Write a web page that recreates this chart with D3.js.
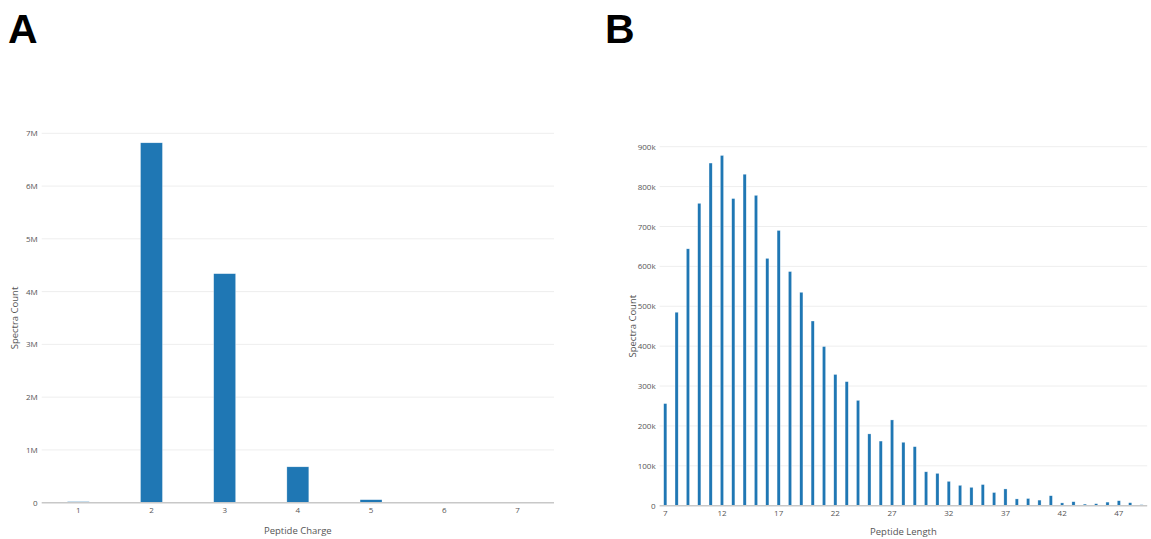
<!DOCTYPE html>
<meta charset="utf-8">
<script src="https://d3js.org/d3.v7.min.js"></script>
<style>
  body { margin: 0; background: #fff; }
  text { font-family: "Open Sans", sans-serif; }
</style>
<div id="chart"></div>
<script>

    // panel A data: peptide charge
    var chargeCats = [1, 2, 3, 4, 5, 6, 7];
    var chargeCounts = [20000, 6820000, 4340000, 680000, 57000, 3000, 500];

    // panel B data: peptide length
    var lengthCats = d3.range(7, 50);
    var lengthCounts = [256000, 485000, 644000, 758000, 859000, 878000, 770000, 831000, 778000, 620000,
        690000, 587000, 535000, 463000, 399000, 329000, 311000, 264000, 180000, 162000,
        215000, 159000, 148000, 85000, 81000, 61000, 51000, 46000, 53000, 33000,
        42000, 17000, 18000, 14000, 25000, 7000, 10000, 4000, 5000, 9000,
        12500, 7500, 2500];
    var lengthTicks = [7, 12, 17, 22, 27, 32, 37, 42, 47];

    var barColor = "#1f77b4";

    var svg = d3.select("#chart")
        .append("svg")
        .attr("width", 1151)
        .attr("height", 539);

    function drawPanel(cfg) {
        var g = svg.append("g");

        var x = d3.scaleBand()
            .domain(cfg.cats)
            .range([cfg.left, cfg.right])
            .paddingInner(cfg.pad)
            .paddingOuter(cfg.pad / 2);

        var y = d3.scaleLinear()
            .domain([0, cfg.ymax])
            .range([cfg.bottom, cfg.top]);

        // gridlines
        g.append("g")
            .selectAll("line")
            .data(y.ticks(cfg.nticks).filter(function(d) { return d > 0; }))
            .enter()
            .append("line")
            .attr("x1", cfg.left)
            .attr("x2", cfg.right)
            .attr("y1", function(d) { return y(d); })
            .attr("y2", function(d) { return y(d); })
            .attr("stroke", "#eeeeee")
            .attr("stroke-width", 1);

        // y axis labels
        var yAxis = g.append("g")
            .attr("transform", "translate(" + cfg.left + ",0)")
            .call(d3.axisLeft(y).ticks(cfg.nticks).tickSize(0).tickPadding(4).tickFormat(d3.format("~s")));
        yAxis.select(".domain").remove();
        yAxis.selectAll("text")
            .style("font-size", "8px")
            .attr("fill", "#555");

        // bars
        g.append("g")
            .selectAll("rect")
            .data(cfg.cats)
            .enter()
            .append("rect")
            .attr("x", function(d) { return x(d); })
            .attr("width", x.bandwidth())
            .attr("y", function(d, i) { return y(cfg.values[i]); })
            .attr("height", function(d, i) { return cfg.bottom - y(cfg.values[i]); })
            .attr("fill", barColor)
            .attr("stroke", "rgba(255,255,255,0.6)")
            .attr("stroke-width", 0.5);

        // x axis
        var xAxis = g.append("g")
            .attr("transform", "translate(0," + cfg.bottom + ")")
            .call(d3.axisBottom(x).tickValues(cfg.tickVals).tickSize(0).tickPadding(5));
        xAxis.select(".domain").remove();
        xAxis.selectAll("text")
            .style("font-size", "8px")
            .attr("fill", "#555");

        g.append("line")
            .attr("x1", cfg.left)
            .attr("x2", cfg.right)
            .attr("y1", cfg.bottom)
            .attr("y2", cfg.bottom)
            .attr("stroke", "#c8c8c8")
            .attr("stroke-width", 1.5);

        // axis titles
        g.append("text")
            .attr("text-anchor", "middle")
            .attr("x", (cfg.left + cfg.right) / 2)
            .attr("y", cfg.bottom + cfg.titleGap)
            .style("font-size", "9.5px")
            .attr("fill", "#555")
            .text(cfg.xTitle);

        g.append("text")
            .attr("text-anchor", "middle")
            .attr("transform", "translate(" + (cfg.left - 24) + "," + ((cfg.top + cfg.bottom) / 2) + ") rotate(-90)")
            .style("font-size", "9.5px")
            .attr("fill", "#555")
            .text("Spectra Count");

        // panel letter
        svg.append("text")
            .attr("x", cfg.letterX)
            .attr("y", 43)
            .style("font-family", "'Liberation Sans', Arial, sans-serif")
            .style("font-weight", "bold")
            .style("font-size", "41px")
            .attr("fill", "#000")
            .text(cfg.letter);
    }

    drawPanel({
        cats: chargeCats, values: chargeCounts, tickVals: chargeCats,
        left: 41.7, right: 554, top: 133.3, bottom: 502.7, ymax: 7e6, nticks: 7,
        pad: 0.7, titleGap: 31.5, xTitle: "Peptide Charge", letter: "A", letterX: 8
    });

    drawPanel({
        cats: lengthCats, values: lengthCounts, tickVals: lengthTicks,
        left: 659.6, right: 1147.2, top: 146.7, bottom: 505.7, ymax: 900000, nticks: 9,
        pad: 0.72, titleGap: 29.5, xTitle: "Peptide Length", letter: "B", letterX: 605
    });

</script>
